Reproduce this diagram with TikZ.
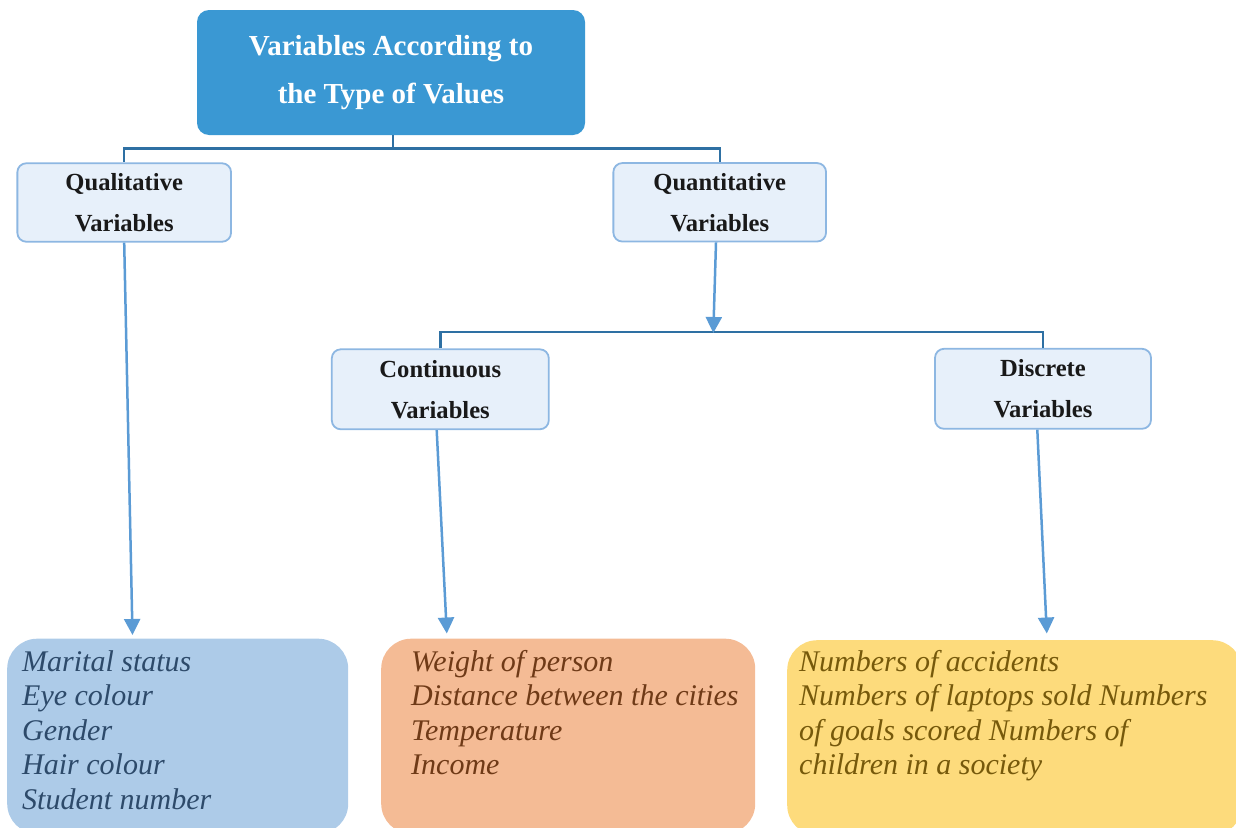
\documentclass[tikz,border=0pt]{standalone}
\usepackage{fontspec}
\setmainfont{Liberation Serif}
\usetikzlibrary{arrows.meta}
\definecolor{topfill}{HTML}{3A98D3}
\definecolor{treeline}{HTML}{2E70A3}
\definecolor{arrowblue}{HTML}{5B9BD5}
\definecolor{catfill}{HTML}{E7F0FA}
\definecolor{catborder}{HTML}{8DB7E2}
\definecolor{bluefill}{HTML}{ADCBE8}
\definecolor{bluetext}{HTML}{2D4A6A}
\definecolor{orangefill}{HTML}{F4BB95}
\definecolor{orangetext}{HTML}{6F3A17}
\definecolor{yellowfill}{HTML}{FDDB7C}
\definecolor{yellowtext}{HTML}{76590B}
\tikzset{
  topbox/.style={fill=topfill, draw=none, rounded corners=12pt, text=white,
    minimum width=388pt, minimum height=125pt, align=center, inner sep=0pt,
    font=\fontsize{29}{48.4}\selectfont\bfseries},
  catbox/.style={fill=catfill, draw=catborder, line width=1.8pt, rounded corners=9pt,
    text=black!90, align=center, inner sep=0pt, minimum height=78.5pt,
    font=\fontsize{24.6}{41}\selectfont\bfseries},
  valbox/.style={draw=none, rounded corners=30pt, anchor=north west, inner sep=0pt,
    minimum height=195pt},
  valtext/.style={anchor=base west, inner sep=0pt,
    font=\fontsize{30}{34.5}\selectfont\itshape},
  tree/.style={draw=treeline, line width=2.4pt},
  arr/.style={draw=arrowblue, line width=2.5pt, -{Triangle[width=16pt,length=16pt]}}
}
\begin{document}
\begin{tikzpicture}[x=1pt,y=-1pt]
\useasboundingbox (0,0) rectangle (1236,827);
\clip (0,0) rectangle (1236,827);
% boxes
\node[topbox] (top) at (391,72.5) {Variables According to\\the Type of Values};
\node[catbox, minimum width=213.7pt] (qual) at (124.2,202.5) {Qualitative\\Variables};
\node[catbox, minimum width=212.7pt] (quant) at (719.7,202.3) {Quantitative\\Variables};
\node[catbox, minimum width=217pt, minimum height=80pt] (cont) at (440.3,389.3) {Continuous\\Variables};
\node[catbox, minimum width=216pt, minimum height=80pt] (disc) at (1043,388.8) {Discrete\\Variables};
% value boxes
\node[valbox, fill=bluefill, minimum width=341pt] (blue) at (7,638.5) {};
\node[valbox, fill=orangefill, minimum width=374pt] (orange) at (381,638.5) {};
\node[valbox, fill=yellowfill, minimum width=455pt] (yellow) at (787,640) {};
\node[valtext, text=bluetext] (bluet) at (22,671) {\begin{tabular}[t]{@{}l@{}}Marital status\\Eye colour\\Gender\\Hair colour\\Student number\end{tabular}};
\node[valtext, text=orangetext] (oranget) at (411,671) {\begin{tabular}[t]{@{}l@{}}Weight of person\\Distance between the cities\\Temperature\\Income\end{tabular}};
\node[valtext, text=yellowtext] (yellowt) at (799,671) {\begin{tabular}[t]{@{}l@{}}Numbers of accidents\\Numbers of laptops sold Numbers\\of goals scored Numbers of\\children in a society\end{tabular}};
% tree connectors
\draw[tree] ([xshift=2pt]top.south) -- ++(0,13.3) -| (qual.north);
\draw[tree] ([xshift=2pt]top.south) ++(0,13.3) -| (quant.north);
\draw[tree] (cont.north) -- ++(0,-16.3) -| (disc.north);
% arrows
\coordinate (qj) at (713.3,333);
\coordinate (qa) at (132.5,635);
\coordinate (ca) at (446.8,633.5);
\coordinate (da) at (1046.8,633.5);
\draw[arr] ([xshift=-3.7pt]quant.south) -- (qj);
\draw[arr] (qual.south) -- (qa);
\draw[arr] ([xshift=-3.6pt]cont.south) -- (ca);
\draw[arr] ([xshift=-5.7pt]disc.south) -- (da);
\end{tikzpicture}
\end{document}
